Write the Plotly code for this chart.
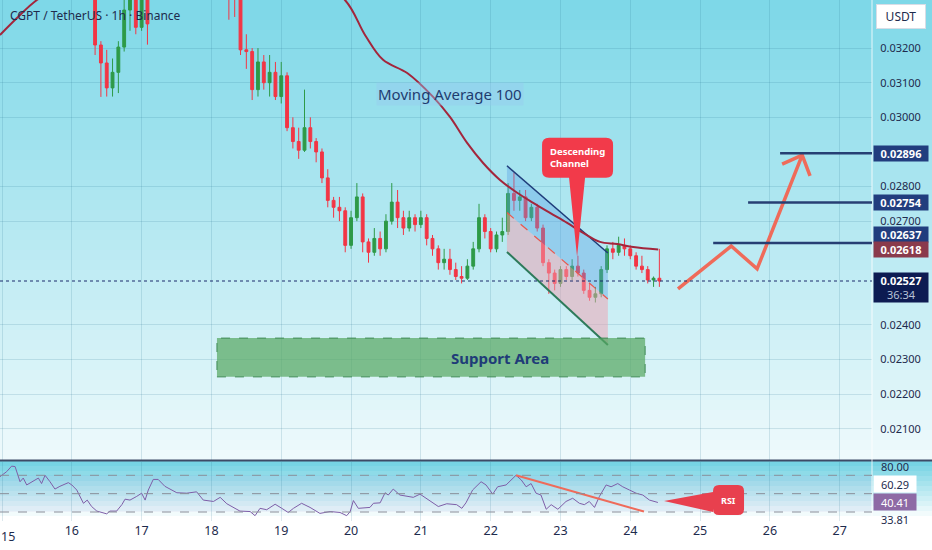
import pandas as pd
import plotly.graph_objects as go
from plotly.subplots import make_subplots

base = pd.Timestamp("2024-03-15")


def at(h):
    return base + pd.to_timedelta(h, unit="h")


# 2h candles, first one at hour 32 after day 15 00:00
candle_start_hour = 32
opens = [0.03380, 0.03209, 0.03157, 0.03085, 0.03130, 0.03203, 0.03310, 0.03340, 0.03260, 0.03360,
         0.03370, 0.03420, 0.03480, 0.03520, 0.03550, 0.03500, 0.03470, 0.03530, 0.03580, 0.03560,
         0.03500, 0.03460, 0.03430, 0.03390, 0.03360, 0.03350, 0.03195, 0.03190, 0.03080, 0.03160,
         0.03100, 0.03130, 0.03060, 0.03120, 0.02970, 0.02930, 0.02905, 0.02970, 0.02930, 0.02900,
         0.02825, 0.02760, 0.02740, 0.02730, 0.02630, 0.02710, 0.02770, 0.02640, 0.02610, 0.02650,
         0.02620, 0.02700, 0.02755, 0.02710, 0.02680, 0.02710, 0.02690, 0.02710, 0.02650, 0.02620,
         0.02580, 0.02590, 0.02560, 0.02540, 0.02535, 0.02570, 0.02620, 0.02710, 0.02670, 0.02620,
         0.02660, 0.02670, 0.02780, 0.02760, 0.02770, 0.02710, 0.02740, 0.02680, 0.02580, 0.02550,
         0.02520, 0.02560, 0.02540, 0.02570, 0.02550, 0.02500, 0.02480, 0.02490, 0.02560, 0.02620,
         0.02610, 0.02630, 0.02620, 0.02600, 0.02570, 0.02560, 0.02530, 0.02535]
highs = [0.03450, 0.03220, 0.03195, 0.03170, 0.03220, 0.03360, 0.03400, 0.03380, 0.03410, 0.03390,
         0.03460, 0.03510, 0.03560, 0.03600, 0.03580, 0.03540, 0.03570, 0.03620, 0.03610, 0.03580,
         0.03530, 0.03490, 0.03460, 0.03450, 0.03420, 0.03370, 0.03240, 0.03200, 0.03200, 0.03180,
         0.03180, 0.03160, 0.03160, 0.03130, 0.03000, 0.02970, 0.03080, 0.03000, 0.02940, 0.02910,
         0.02850, 0.02770, 0.02770, 0.02740, 0.02730, 0.02810, 0.02780, 0.02650, 0.02680, 0.02670,
         0.02720, 0.02810, 0.02790, 0.02730, 0.02730, 0.02720, 0.02730, 0.02720, 0.02660, 0.02630,
         0.02620, 0.02620, 0.02580, 0.02570, 0.02590, 0.02640, 0.02750, 0.02720, 0.02680, 0.02670,
         0.02710, 0.02810, 0.02840, 0.02790, 0.02790, 0.02750, 0.02750, 0.02690, 0.02590, 0.02560,
         0.02570, 0.02570, 0.02590, 0.02600, 0.02560, 0.02520, 0.02510, 0.02570, 0.02630, 0.02640,
         0.02655, 0.02650, 0.02630, 0.02610, 0.02600, 0.02570, 0.02540, 0.02620]
lows = [0.03180, 0.03059, 0.03060, 0.03060, 0.03070, 0.03190, 0.03250, 0.03240, 0.03250, 0.03210,
        0.03350, 0.03400, 0.03450, 0.03490, 0.03470, 0.03440, 0.03450, 0.03510, 0.03530, 0.03480,
        0.03440, 0.03400, 0.03370, 0.03282, 0.03290, 0.03180, 0.03140, 0.03050, 0.03060, 0.03080,
        0.03060, 0.03050, 0.03040, 0.02960, 0.02910, 0.02880, 0.02900, 0.02910, 0.02870, 0.02810,
        0.02740, 0.02710, 0.02700, 0.02610, 0.02620, 0.02700, 0.02610, 0.02580, 0.02600, 0.02600,
        0.02610, 0.02690, 0.02680, 0.02660, 0.02670, 0.02670, 0.02680, 0.02630, 0.02600, 0.02560,
        0.02560, 0.02545, 0.02530, 0.02520, 0.02530, 0.02560, 0.02610, 0.02650, 0.02610, 0.02610,
        0.02640, 0.02660, 0.02730, 0.02730, 0.02700, 0.02700, 0.02670, 0.02570, 0.02490, 0.02500,
        0.02510, 0.02530, 0.02530, 0.02540, 0.02490, 0.02470, 0.02465, 0.02480, 0.02550, 0.02590,
        0.02600, 0.02600, 0.02590, 0.02560, 0.02550, 0.02520, 0.02510, 0.02510]
closes = [0.03209, 0.03157, 0.03085, 0.03130, 0.03203, 0.03310, 0.03340, 0.03260, 0.03360, 0.03270,
          0.03420, 0.03480, 0.03520, 0.03550, 0.03500, 0.03470, 0.03530, 0.03580, 0.03560, 0.03500,
          0.03460, 0.03430, 0.03390, 0.03360, 0.03350, 0.03195, 0.03190, 0.03080, 0.03160, 0.03100,
          0.03130, 0.03060, 0.03120, 0.02970, 0.02930, 0.02905, 0.02970, 0.02930, 0.02900, 0.02825,
          0.02760, 0.02740, 0.02730, 0.02630, 0.02710, 0.02770, 0.02640, 0.02610, 0.02650, 0.02620,
          0.02700, 0.02755, 0.02710, 0.02680, 0.02710, 0.02690, 0.02710, 0.02650, 0.02620, 0.02580,
          0.02590, 0.02560, 0.02540, 0.02535, 0.02570, 0.02620, 0.02710, 0.02670, 0.02620, 0.02660,
          0.02670, 0.02780, 0.02760, 0.02770, 0.02710, 0.02740, 0.02680, 0.02580, 0.02550, 0.02520,
          0.02560, 0.02540, 0.02570, 0.02550, 0.02500, 0.02480, 0.02490, 0.02560, 0.02620, 0.02610,
          0.02630, 0.02620, 0.02600, 0.02570, 0.02560, 0.02530, 0.02535, 0.02527]

# moving average 100 (hours, price)
ma_hours = [-0.7, 5.5, 12.0, 34, 68, 102, 117.9, 124.8, 131.0, 139.3, 148.2, 154.0, 159.9,
            165.4, 171.2, 177.1, 182.6, 188.4, 194.3, 199.8, 205.6, 211.5, 217.0, 225.6]
ma_price = [0.03238, 0.03290, 0.03339, 0.03450, 0.03500, 0.03430, 0.03339, 0.03238, 0.03166, 0.03128,
            0.03059, 0.03001, 0.02926, 0.02868, 0.02819, 0.02782, 0.02753, 0.02724, 0.02695,
            0.02666, 0.02640, 0.02634, 0.02625, 0.02618]

# RSI (hours, value)
rsi_hours = [-0.7, 1.6, 3.3, 4.5, 6.2, 7.3, 8.5, 10.8, 12.5, 13.6, 14.8, 16.5, 18.2, 19.9, 22.8, 24.0,
             25.7, 28.0, 29.3, 30.8, 32.6, 36.0, 37.1, 39.4, 41.2, 42.3, 44.0, 46.3, 48.0, 49.2, 50.3,
             52.0, 53.7, 56.0, 58.3, 60.1, 63.5, 66.9, 69.2, 72.7, 75.0, 77.3, 81.8, 85.3, 87.0, 88.7,
             91.0, 93.9, 96.2, 98.4, 100.2, 103.0, 105.9, 109.3, 112.8, 116.2, 118.5, 119.7, 120.8,
             122.5, 126.5, 127.7, 130.0, 131.7, 132.8, 134.5, 136.8, 139.1, 141.4, 143.7, 147.2, 150.0,
             152.9, 156.3, 158.1, 159.5, 161.8, 164.7, 166.4, 168.7, 170.4, 173.3, 176.7, 178.5, 180.2,
             181.9, 183.6, 185.3, 187.1, 188.8, 191.1, 193.9, 196.2, 198.5, 200.2, 201.9, 203.7, 205.4,
             207.7, 209.4, 211.7, 213.4, 215.7, 218.0, 220.3, 222.6, 225.5]
rsi_vals = [68.5, 74, 80, 79.5, 63, 67, 59.5, 64, 67, 61, 70, 63, 55, 58, 62, 59.5,
            54, 39.5, 43, 36, 31, 28, 31, 31, 38, 44, 43, 47, 50.5, 43, 54,
            65.5, 65.5, 58, 54, 51, 50.5, 52, 43, 41.5, 46, 39, 31, 30.5, 26, 34,
            32.5, 38.5, 34, 29.5, 34, 39.5, 35, 28.5, 30.5, 29.5, 26, 30.5, 42.5,
            34, 35, 39.5, 40, 51, 48.5, 55, 48.5, 47.5, 46, 49.5, 41.5, 36,
            39, 38, 34, 40, 54, 63, 59.5, 49.5, 57.5, 59.5, 70, 65, 57.5,
            61, 50.5, 48.5, 33, 38, 33, 41.5, 45, 39.5, 38, 41.5, 35, 47,
            59.5, 57.5, 61, 57.5, 54, 50.5, 48.5, 43, 40.4]

# drawings
chan_hours = [173.6, 208.3]
chan_upper = [0.02860, 0.02608]
chan_mid = [0.02725, 0.02475]
chan_lower = [0.02611, 0.02342]
support_hours = [73.9, 221.1]
support_price = [0.02250, 0.02362]
target_start_hours = [244.5, 256.5, 267.5]
target_prices = [0.02637, 0.02754, 0.02896]
arrow_hours = [232.4, 250.7, 259.6, 275.1]
arrow_price = [0.02504, 0.02628, 0.02562, 0.02891]
head_hours = [268.2, 275.1, 277.8]
head_price = [0.02865, 0.02891, 0.02831]
rsi_trend_hours = [176.7, 220.7]
rsi_trend_vals = [70, 30.5]
last_price = 0.02527
ma_last = 0.02618

price_ticks = [0.021, 0.022, 0.023, 0.024, 0.027, 0.028, 0.030, 0.031, 0.032]
day_labels = ["15", "16", "17", "18", "19", "20", "21", "22", "23", "24", "25", "26", "27"]

NAVY = "#1e2b4d"
ARROW = "#ef6b5a"
H = 521.0  # plot area height in px

fig = make_subplots(rows=2, cols=1, shared_xaxes=True, vertical_spacing=0.004)

times = pd.date_range(at(candle_start_hour), periods=len(closes), freq="2h")
fig.add_trace(go.Candlestick(x=times, open=opens, high=highs, low=lows, close=closes,
                             increasing=dict(line=dict(color="#2e9a47", width=1), fillcolor="#2e9a47"),
                             decreasing=dict(line=dict(color="#f23645", width=1), fillcolor="#f23645"),
                             hoverinfo="skip", showlegend=False), row=1, col=1)

# channel fills
fig.add_trace(go.Scatter(x=[at(h) for h in chan_hours + chan_hours[::-1]],
                         y=chan_upper + chan_mid[::-1], fill="toself", mode="none",
                         fillcolor="rgba(90,160,230,0.38)", showlegend=False, hoverinfo="skip"), row=1, col=1)
fig.add_trace(go.Scatter(x=[at(h) for h in chan_hours + chan_hours[::-1]],
                         y=chan_mid + chan_lower[::-1], fill="toself", mode="none",
                         fillcolor="rgba(240,160,175,0.5)", showlegend=False, hoverinfo="skip"), row=1, col=1)
for ys, col, dash, w in [(chan_upper, "#1f3d7a", "solid", 1.5), (chan_mid, "#e8584f", "dash", 1.2),
                         (chan_lower, "#2d7a5a", "solid", 2)]:
    fig.add_trace(go.Scatter(x=[at(h) for h in chan_hours], y=ys, mode="lines",
                             line=dict(color=col, width=w, dash=dash), showlegend=False,
                             hoverinfo="skip"), row=1, col=1)

# MA 100
fig.add_trace(go.Scatter(x=[at(h) for h in ma_hours], y=ma_price, mode="lines",
                         line=dict(color="#a3263c", width=2, shape="spline", smoothing=1.0),
                         showlegend=False, hoverinfo="skip"), row=1, col=1)

# projection arrow
fig.add_trace(go.Scatter(x=[at(h) for h in arrow_hours], y=arrow_price, mode="lines",
                         line=dict(color=ARROW, width=3.5), showlegend=False, hoverinfo="skip"), row=1, col=1)
fig.add_trace(go.Scatter(x=[at(h) for h in head_hours], y=head_price, mode="lines",
                         line=dict(color=ARROW, width=3.5), showlegend=False, hoverinfo="skip"), row=1, col=1)

# RSI
fig.add_trace(go.Scatter(x=[at(h) for h in rsi_hours], y=rsi_vals, mode="lines",
                         line=dict(color="#7e5ea8", width=1), showlegend=False, hoverinfo="skip"), row=2, col=1)
fig.add_trace(go.Scatter(x=[at(h) for h in rsi_trend_hours], y=rsi_trend_vals, mode="lines",
                         line=dict(color=ARROW, width=2), showlegend=False, hoverinfo="skip"), row=2, col=1)

shapes = []
# background gradients
top, bot = (126, 216, 232), (238, 250, 252)
for i in range(46):
    f = i / 45
    c = tuple(int(top[j] + (bot[j] - top[j]) * f) for j in range(3))
    shapes.append(dict(type="rect", xref="paper", yref="paper", x0=-0.01, x1=1.08,
                       y0=(H - (i + 1) * 10) / H, y1=(H - i * 10) / H, layer="below",
                       fillcolor="rgb(%d,%d,%d)" % c, line=dict(width=0)))
top2 = (118, 212, 228)
for i in range(12):
    f = i / 11
    c = tuple(int(top2[j] + (255 - top2[j]) * f) for j in range(3))
    shapes.append(dict(type="rect", xref="paper", yref="paper", x0=-0.01, x1=1.08,
                       y0=(H - 461 - (i + 1) * 5) / H, y1=(H - 461 - i * 5) / H, layer="below",
                       fillcolor="rgb(%d,%d,%d)" % c, line=dict(width=0)))
# pane separators
shapes.append(dict(type="line", xref="paper", yref="paper", x0=0, x1=1.08, y0=(H - 460.5) / H,
                   y1=(H - 460.5) / H, line=dict(color="#3d4b66", width=2)))
shapes.append(dict(type="line", xref="paper", yref="paper", x0=1, x1=1, y0=0, y1=1,
                   line=dict(color="rgba(255,255,255,0.8)", width=1)))
# support area
shapes.append(dict(type="rect", xref="x", yref="y", x0=at(support_hours[0]), x1=at(support_hours[1]),
                   y0=support_price[0], y1=support_price[1], fillcolor="rgba(88,168,98,0.72)",
                   line=dict(color="#3f8a55", width=1, dash="dash")))
# targets
for h, p in zip(target_start_hours, target_prices):
    shapes.append(dict(type="line", xref="x", yref="y", x0=at(h), x1=at(302), y0=p, y1=p,
                       line=dict(color="#263f73", width=2.5)))
# last price dotted
shapes.append(dict(type="line", xref="paper", yref="y", x0=0, x1=1, y0=last_price, y1=last_price,
                   line=dict(color="#1a2b6b", width=1.2, dash="dot")))
# RSI bands
shapes.append(dict(type="rect", xref="paper", yref="y2", x0=0, x1=1, y0=30, y1=70,
                   fillcolor="rgba(126,87,194,0.06)", line=dict(width=0), layer="below"))
for v in [70, 50, 30]:
    shapes.append(dict(type="line", xref="paper", yref="y2", x0=0, x1=1, y0=v, y1=v,
                       line=dict(color="#8a8f9a", width=1, dash="dash")))
# callouts (pixel-sized, anchored at the pointer tip)
shapes.append(dict(type="path", xref="x", yref="y", xsizemode="pixel", ysizemode="pixel",
                   xanchor=at(197.7), yanchor=0.02597,
                   path="M 0,0 L 8,79 L 29,79 Q 36,79 36,86 L 36,112 Q 36,119 29,119 L -28,119 "
                        "Q -35,119 -35,112 L -35,86 Q -35,79 -28,79 L -8,79 Z",
                   fillcolor="#f23a4a", line=dict(width=0)))
shapes.append(dict(type="path", xref="x2", yref="y2", xsizemode="pixel", ysizemode="pixel",
                   xanchor=at(227.6), yanchor=42.0,
                   path="M 0,0 L 49,9 L 49,10 Q 49,16 55,16 L 74,16 Q 80,16 80,10 L 80,-8 "
                        "Q 80,-14 74,-14 L 55,-14 Q 49,-14 49,-8 L 49,-11 Z",
                   fillcolor="#e8404e", line=dict(width=0)))

ann = []
ann.append(dict(xref="paper", yref="paper", x=8 / 872, y=(H - 16) / H, xanchor="left", yanchor="middle",
                text="CGPT / TetherUS · 1h · Binance", showarrow=False, font=dict(size=12, color=NAVY)))
ann.append(dict(xref="x", yref="y", x=at(153.9), y=0.030662, text="Moving Average 100", showarrow=False,
                bgcolor="rgba(150,200,240,0.4)", borderpad=1, font=dict(size=15, color="#1f3c70")))
ann.append(dict(xref="x", yref="y", x=at(171.1), y=0.023046, text="<b>Support Area</b>", showarrow=False,
                font=dict(size=15, color="#1f3c78")))
ann.append(dict(xref="x", yref="y", x=at(197.7), y=0.028827, text="<b>Descending<br>Channel</b>",
                showarrow=False, align="left", font=dict(size=9.5, color="white")))
ann.append(dict(xref="x2", yref="y2", x=at(249.8), y=43, text="<b>RSI</b>", showarrow=False,
                font=dict(size=9, color="white")))
# first day label sits on the left edge, plotly drops it as a tick
ann.append(dict(xref="paper", yref="paper", x=0, xanchor="left", y=-15 / H, yanchor="middle",
                text=day_labels[0], showarrow=False, borderpad=0, font=dict(size=12.5, color=NAVY)))
# right scale boxes
ann.append(dict(xref="paper", yref="paper", x=1 + 4 / 872, y=(H - 4) / H, xanchor="left", yanchor="top",
                text="USDT", showarrow=False, bgcolor="white", bordercolor="#d8dde6", width=46, height=21,
                font=dict(size=12, color=NAVY)))
for p, col, shift in [(0.02896, "#213d7e", 0), (0.02754, "#213d7e", 0), (0.02637, "#213d7e", 8.5),
                      (ma_last, "#8a3a4c", 0)]:
    ann.append(dict(xref="paper", yref="y", x=1 + 1 / 872, y=p, xanchor="left", yanchor="middle",
                    yshift=shift, text="<b>%.5f</b>" % p, showarrow=False, bgcolor=col, width=52, height=13,
                    font=dict(size=11, color="white")))
ann.append(dict(xref="paper", yref="y", x=1 + 1 / 872, y=last_price, xanchor="left", yanchor="top", yshift=9,
                text="<b>%.5f</b><br><span style='color:#b8c2d6'>36:34</span>" % last_price, showarrow=False,
                bgcolor="#0d1b52", width=52, height=27, font=dict(size=11, color="white")))
for v, txt, bg, fc, shift in [(80, "80.00", None, NAVY, 0), (60.29, "60.29", "white", NAVY, 0),
                              (40.41, "40.41", "#8e6aa5", "white", 0), (33.81, "33.81", None, NAVY, -10)]:
    a = dict(xref="paper", yref="y2", x=1 + 1 / 872, y=v, xanchor="left", yanchor="middle", yshift=shift,
             text=txt, showarrow=False, width=40, height=14, font=dict(size=11, color=fc))
    if bg:
        a["bgcolor"] = bg
    ann.append(a)

day_vals = [at(24 * i) for i in range(len(day_labels))]
grid = "rgba(40,110,140,0.16)"
fig.update_layout(width=932, height=550, margin=dict(l=0, r=60, t=0, b=29),
                  paper_bgcolor="white", plot_bgcolor="rgba(0,0,0,0)",
                  font=dict(family="Noto Sans", color=NAVY), shapes=shapes, annotations=ann,
                  showlegend=False)
fig.update_xaxes(range=[at(-0.69), at(299.1)], tickvals=day_vals, ticktext=day_labels, showgrid=True,
                 gridcolor=grid, showline=False, zeroline=False, rangeslider_visible=False)
fig.update_xaxes(showticklabels=False, row=1, col=1)
fig.update_xaxes(tickfont=dict(size=12.5, color=NAVY), row=2, col=1)
fig.update_yaxes(side="right", range=[0.020098, 0.03339], tickvals=price_ticks, tickformat=".5f",
                 ticks="outside", ticklen=5, tickcolor="rgba(0,0,0,0)", gridcolor=grid, zeroline=False,
                 tickfont=dict(size=11, color=NAVY), domain=[(H - 460) / H, 1], row=1, col=1)
fig.update_yaxes(side="right", range=[20.2, 84.5], showticklabels=False, showgrid=False, zeroline=False,
                 domain=[0, (H - 462) / H], row=2, col=1)

fig.write_html("out.html", config={"displayModeBar": False},
               post_script="document.body.style.margin='0';")
